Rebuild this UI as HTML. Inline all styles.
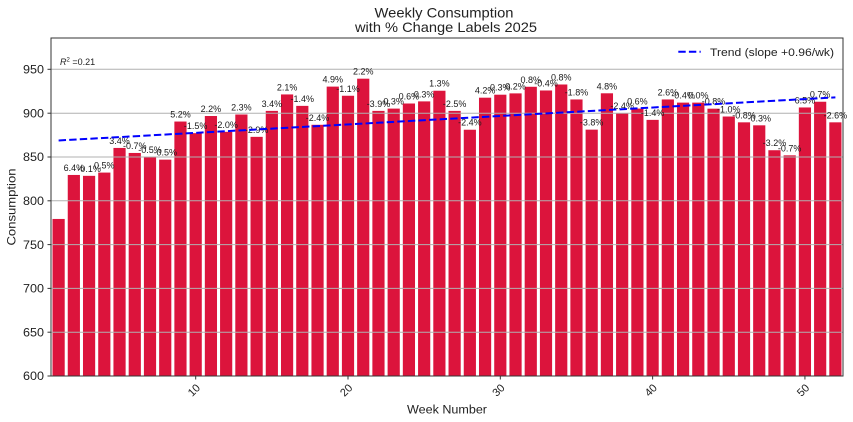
<!DOCTYPE html>
<html><head><meta charset="utf-8"><style>
html,body{margin:0;padding:0;background:#fff;}
svg{display:block;font-family:"Liberation Sans","DejaVu Sans",sans-serif;}
</style></head><body>
<svg width="853" height="422" viewBox="0 0 853 422" xmlns="http://www.w3.org/2000/svg">
<rect width="853" height="422" fill="#fff"/>
<g transform="matrix(15.2308,0,0,-0.88,43.385,904.3)" fill="#DC143C">
<rect x="0.6" y="600" width="0.8" height="178.8"/>
<rect x="1.6" y="600" width="0.8" height="228.8"/>
<rect x="2.6" y="600" width="0.8" height="227.8"/>
<rect x="3.6" y="600" width="0.8" height="231.5"/>
<rect x="4.6" y="600" width="0.8" height="259.5"/>
<rect x="5.6" y="600" width="0.8" height="253.8"/>
<rect x="6.6" y="600" width="0.8" height="249.0"/>
<rect x="7.6" y="600" width="0.8" height="246.2"/>
<rect x="8.6" y="600" width="0.8" height="289.5"/>
<rect x="9.6" y="600" width="0.8" height="276.3"/>
<rect x="10.6" y="600" width="0.8" height="295.8"/>
<rect x="11.6" y="600" width="0.8" height="277.8"/>
<rect x="12.6" y="600" width="0.8" height="297.5"/>
<rect x="13.6" y="600" width="0.8" height="272.1"/>
<rect x="14.6" y="600" width="0.8" height="301.6"/>
<rect x="15.6" y="600" width="0.8" height="320.3"/>
<rect x="16.6" y="600" width="0.8" height="307.3"/>
<rect x="17.6" y="600" width="0.8" height="285.8"/>
<rect x="18.6" y="600" width="0.8" height="329.2"/>
<rect x="19.6" y="600" width="0.8" height="318.8"/>
<rect x="20.6" y="600" width="0.8" height="338.2"/>
<rect x="21.6" y="600" width="0.8" height="301.6"/>
<rect x="22.6" y="600" width="0.8" height="304.2"/>
<rect x="23.6" y="600" width="0.8" height="310.0"/>
<rect x="24.6" y="600" width="0.8" height="312.4"/>
<rect x="25.6" y="600" width="0.8" height="324.5"/>
<rect x="26.6" y="600" width="0.8" height="301.6"/>
<rect x="27.6" y="600" width="0.8" height="280.2"/>
<rect x="28.6" y="600" width="0.8" height="316.6"/>
<rect x="29.6" y="600" width="0.8" height="320.0"/>
<rect x="30.6" y="600" width="0.8" height="321.5"/>
<rect x="31.6" y="600" width="0.8" height="329.0"/>
<rect x="32.6" y="600" width="0.8" height="324.8"/>
<rect x="33.6" y="600" width="0.8" height="331.6"/>
<rect x="34.6" y="600" width="0.8" height="314.6"/>
<rect x="35.6" y="600" width="0.8" height="280.3"/>
<rect x="36.6" y="600" width="0.8" height="321.6"/>
<rect x="37.6" y="600" width="0.8" height="299.2"/>
<rect x="38.6" y="600" width="0.8" height="304.2"/>
<rect x="39.6" y="600" width="0.8" height="291.4"/>
<rect x="40.6" y="600" width="0.8" height="314.6"/>
<rect x="41.6" y="600" width="0.8" height="311.0"/>
<rect x="42.6" y="600" width="0.8" height="311.0"/>
<rect x="43.6" y="600" width="0.8" height="304.1"/>
<rect x="44.6" y="600" width="0.8" height="295.2"/>
<rect x="45.6" y="600" width="0.8" height="288.6"/>
<rect x="46.6" y="600" width="0.8" height="285.2"/>
<rect x="47.6" y="600" width="0.8" height="256.9"/>
<rect x="48.6" y="600" width="0.8" height="251.1"/>
<rect x="49.6" y="600" width="0.8" height="305.5"/>
<rect x="50.6" y="600" width="0.8" height="312.0"/>
<rect x="51.6" y="600" width="0.8" height="288.6"/>
</g>
<g stroke="#b0b0b0" stroke-width="1">
<line x1="51" y1="69.3" x2="843" y2="69.3"/>
<line x1="51" y1="113.2" x2="843" y2="113.2"/>
<line x1="51" y1="157.0" x2="843" y2="157.0"/>
<line x1="51" y1="200.8" x2="843" y2="200.8"/>
<line x1="51" y1="244.6" x2="843" y2="244.6"/>
<line x1="51" y1="288.4" x2="843" y2="288.4"/>
<line x1="51" y1="332.2" x2="843" y2="332.2"/>
</g>
<g font-size="9" fill="#1a1a1a" text-anchor="middle">
<text x="73.85" y="171.0">6.4%</text>
<text x="89.08" y="171.8">-0.1%</text>
<text x="104.31" y="168.6">0.5%</text>
<text x="119.54" y="143.9">3.4%</text>
<text x="134.77" y="149.0">-0.7%</text>
<text x="150.00" y="153.2">-0.5%</text>
<text x="165.23" y="155.6">-0.5%</text>
<text x="180.46" y="117.5">5.2%</text>
<text x="195.69" y="129.2">-1.5%</text>
<text x="210.92" y="112.0">2.2%</text>
<text x="226.15" y="127.8">-2.0%</text>
<text x="241.38" y="110.5">2.3%</text>
<text x="256.62" y="132.9">-2.9%</text>
<text x="271.85" y="106.9">3.4%</text>
<text x="287.08" y="90.4">2.1%</text>
<text x="302.31" y="101.9">-1.4%</text>
<text x="317.54" y="120.8">-2.4%</text>
<text x="332.77" y="82.6">4.9%</text>
<text x="348.00" y="91.8">-1.1%</text>
<text x="363.23" y="74.7">2.2%</text>
<text x="378.46" y="106.9">-3.9%</text>
<text x="393.69" y="104.6">0.3%</text>
<text x="408.92" y="99.5">0.6%</text>
<text x="424.15" y="97.4">0.3%</text>
<text x="439.39" y="86.7">1.3%</text>
<text x="454.62" y="106.9">-2.5%</text>
<text x="469.85" y="125.7">-2.4%</text>
<text x="485.08" y="93.7">4.2%</text>
<text x="500.31" y="90.7">0.3%</text>
<text x="515.54" y="89.4">0.2%</text>
<text x="530.77" y="82.8">0.8%</text>
<text x="546.00" y="86.5">-0.4%</text>
<text x="561.23" y="80.5">0.8%</text>
<text x="576.46" y="95.5">-1.8%</text>
<text x="591.69" y="125.6">-3.8%</text>
<text x="606.92" y="89.3">4.8%</text>
<text x="622.16" y="109.0">-2.4%</text>
<text x="637.39" y="104.6">0.6%</text>
<text x="652.62" y="115.9">-1.4%</text>
<text x="667.85" y="95.5">2.6%</text>
<text x="683.08" y="98.6">-0.4%</text>
<text x="698.31" y="98.6">0.0%</text>
<text x="713.54" y="104.7">-0.8%</text>
<text x="728.77" y="112.5">-1.0%</text>
<text x="744.00" y="118.3">-0.8%</text>
<text x="759.23" y="121.3">-0.3%</text>
<text x="774.46" y="146.2">-3.2%</text>
<text x="789.69" y="151.3">-0.7%</text>
<text x="804.93" y="103.5">6.5%</text>
<text x="820.16" y="97.7">0.7%</text>
<text x="835.39" y="118.3">-2.6%</text>
</g>
<line x1="58.62" y1="140.46" x2="835.39" y2="97.38" stroke="#0000ff" stroke-width="2" stroke-dasharray="7.4 3.2"/>
<text x="60" y="65" font-size="9" fill="#222"><tspan font-style="italic">R</tspan><tspan font-size="6" dy="-3.5">2</tspan><tspan dy="3.5"> =0.21</tspan></text>
<line x1="678.3" y1="51.7" x2="700.7" y2="51.7" stroke="#0000ff" stroke-width="2" stroke-dasharray="7.4 3.2"/>
<text x="710" y="55.8" font-size="11" fill="#222" textLength="124" lengthAdjust="spacingAndGlyphs">Trend (slope +0.96/wk)</text>
<rect x="51" y="38" width="792" height="338" fill="none" stroke="#333" stroke-width="1"/>
<g stroke="#333" stroke-width="1">
<line x1="47.5" y1="376" x2="51" y2="376"/>
<line x1="47.5" y1="332.2" x2="51" y2="332.2"/>
<line x1="47.5" y1="288.4" x2="51" y2="288.4"/>
<line x1="47.5" y1="244.6" x2="51" y2="244.6"/>
<line x1="47.5" y1="200.8" x2="51" y2="200.8"/>
<line x1="47.5" y1="157.0" x2="51" y2="157.0"/>
<line x1="47.5" y1="113.2" x2="51" y2="113.2"/>
<line x1="47.5" y1="69.3" x2="51" y2="69.3"/>
<line x1="195.69" y1="376" x2="195.69" y2="379.5"/>
<line x1="348.0" y1="376" x2="348.0" y2="379.5"/>
<line x1="500.31" y1="376" x2="500.31" y2="379.5"/>
<line x1="652.62" y1="376" x2="652.62" y2="379.5"/>
<line x1="804.93" y1="376" x2="804.93" y2="379.5"/>
</g>
<g font-size="11.5" fill="#222" text-anchor="end">
<text x="44" y="380.2" textLength="21" lengthAdjust="spacingAndGlyphs">600</text>
<text x="44" y="336.4" textLength="21" lengthAdjust="spacingAndGlyphs">650</text>
<text x="44" y="292.6" textLength="21" lengthAdjust="spacingAndGlyphs">700</text>
<text x="44" y="248.8" textLength="21" lengthAdjust="spacingAndGlyphs">750</text>
<text x="44" y="205.0" textLength="21" lengthAdjust="spacingAndGlyphs">800</text>
<text x="44" y="161.2" textLength="21" lengthAdjust="spacingAndGlyphs">850</text>
<text x="44" y="117.4" textLength="21" lengthAdjust="spacingAndGlyphs">900</text>
<text x="44" y="73.5" textLength="21" lengthAdjust="spacingAndGlyphs">950</text>
</g>
<g font-size="11" fill="#222" text-anchor="middle">
<text transform="translate(193.7,390) rotate(-45)" dy="4">10</text>
<text transform="translate(346,390) rotate(-45)" dy="4">20</text>
<text transform="translate(498.3,390) rotate(-45)" dy="4">30</text>
<text transform="translate(650.6,390) rotate(-45)" dy="4">40</text>
<text transform="translate(802.9,390) rotate(-45)" dy="4">50</text>
</g>
<text x="447" y="413.5" font-size="11.5" fill="#222" text-anchor="middle" textLength="80" lengthAdjust="spacingAndGlyphs">Week Number</text>
<text transform="translate(15.5,207) rotate(-90)" font-size="12" fill="#222" text-anchor="middle" textLength="77" lengthAdjust="spacingAndGlyphs">Consumption</text>
<text x="444" y="17.3" font-size="14" fill="#222" text-anchor="middle" textLength="139" lengthAdjust="spacingAndGlyphs">Weekly Consumption</text>
<text x="446" y="32" font-size="14" fill="#222" text-anchor="middle" textLength="182" lengthAdjust="spacingAndGlyphs">with % Change Labels 2025</text>
</svg>
</body></html>
